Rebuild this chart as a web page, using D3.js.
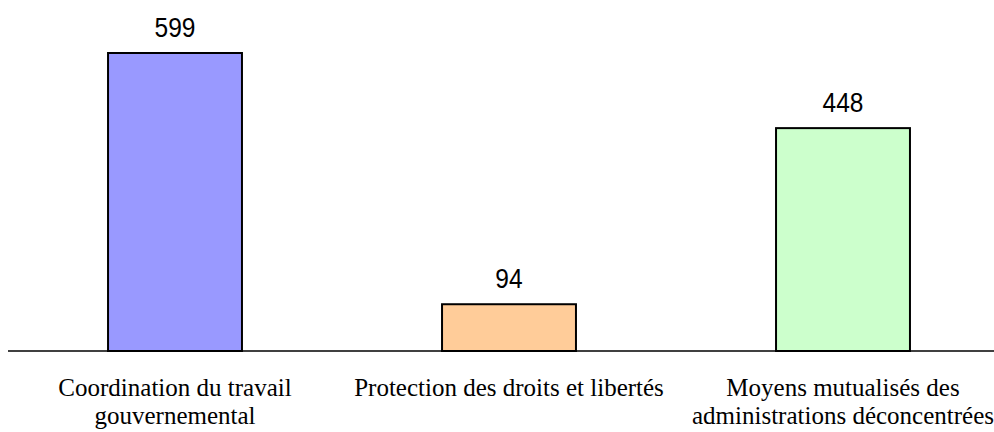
<!DOCTYPE html>
<html><head><meta charset="utf-8">
<script src="https://cdn.jsdelivr.net/npm/d3@7"></script>
<style>body{margin:0;background:#fff}</style>
</head><body>
<svg id="c" width="994" height="432"></svg>
<script>
const categories = [["Coordination du travail","gouvernemental"],["Protection des droits et libertés"],["Moyens mutualisés des","administrations déconcentrées"]];
const values = [599, 94, 448];
const colors = ["#9999FF", "#FFCC99", "#CCFFCC"];

const svg = d3.select("#c");
const baseY = 351, topY = 53;
const x = d3.scaleBand().domain(d3.range(values.length)).range([8, 1010]).padding(0);
const y = d3.scaleLinear().domain([0, 599]).range([baseY, topY]);
const barW = x.bandwidth() * 0.401;

svg.selectAll("rect.bar").data(values).enter().append("rect")
  .attr("x", (d,i) => x(i) + (x.bandwidth()-barW)/2)
  .attr("y", d => y(d))
  .attr("width", barW)
  .attr("height", d => baseY - y(d))
  .attr("fill", (d,i) => colors[i])
  .attr("stroke", "#000").attr("stroke-width", 2);

svg.append("line").attr("x1", 8).attr("x2", 994).attr("y1", baseY).attr("y2", baseY)
  .attr("stroke", "#000").attr("stroke-width", 1.3);

svg.selectAll("text.val").data(values).enter().append("text")
  .attr("transform", (d,i) => `translate(${x(i) + x.bandwidth()/2},${y(d) - 16}) scale(1,1.1)`)
  .attr("text-anchor", "middle")
  .attr("font-family", "Liberation Sans, Arial, sans-serif")
  .attr("font-size", 24.5)
  .text(d => d);

categories.forEach((lines, i) => {
  const cx = x(i) + x.bandwidth()/2;
  const t = svg.append("text")
    .attr("text-anchor", "middle")
    .attr("font-family", "Liberation Serif, Times New Roman, serif")
    .attr("font-size", 25);
  lines.forEach((l, j) => t.append("tspan").attr("x", cx).attr("y", 396 + j*28).text(l));
});
</script>
</body></html>
